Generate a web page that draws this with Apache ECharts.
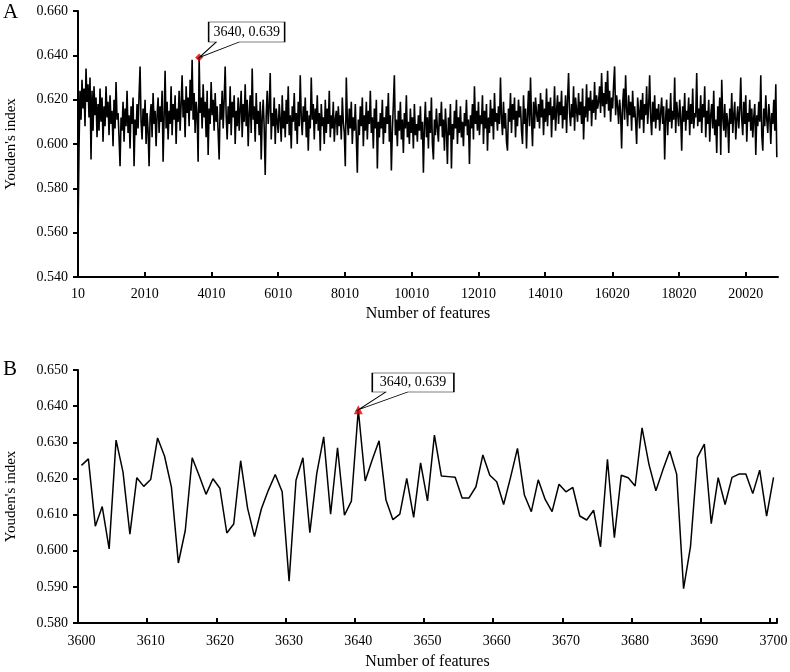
<!DOCTYPE html>
<html><head><meta charset="utf-8">
<script src="https://cdn.jsdelivr.net/npm/echarts@6/dist/echarts.min.js"></script>
<style>html,body{margin:0;padding:0;background:#fff}#c{width:790px;height:672px}</style>
</head><body><div id="c"></div>
<script>
// ---------- Panel A: Youden's index vs number of features ----------
const firstFeatureA = 10;
const featureStepA = 30;
const youdenA = [
0.559,0.598,0.624,0.611,0.629,0.616,0.625,0.608,0.634,0.619,0.627,0.612,0.630,0.593,0.624,0.606,0.626,0.613,0.621,0.603,
0.618,0.606,0.625,0.610,0.621,0.601,0.617,0.608,0.626,0.612,0.619,0.604,0.622,0.609,0.615,0.599,0.620,0.607,0.628,0.611,
0.614,0.603,0.590,0.612,0.606,0.619,0.601,0.616,0.608,0.624,0.605,0.613,0.598,0.617,0.609,0.621,0.590,0.611,0.604,0.618,
0.607,0.622,0.635,0.610,0.602,0.616,0.608,0.620,0.600,0.614,0.606,0.590,0.612,0.618,0.603,0.623,0.609,0.615,0.599,0.613,
0.621,0.605,0.617,0.610,0.624,0.592,0.612,0.633,0.607,0.619,0.602,0.615,0.609,0.626,0.604,0.618,0.611,0.622,0.600,0.616,
0.610,0.624,0.606,0.618,0.631,0.612,0.620,0.603,0.626,0.614,0.621,0.608,0.629,0.615,0.638,0.611,0.623,0.605,0.619,0.613,
0.592,0.639,0.614,0.621,0.607,0.627,0.612,0.619,0.603,0.624,0.595,0.616,0.609,0.628,0.613,0.620,0.606,0.623,0.610,0.617,
0.605,0.593,0.618,0.611,0.624,0.607,0.620,0.635,0.613,0.602,0.617,0.609,0.626,0.604,0.619,0.612,0.622,0.600,0.615,0.608,
0.621,0.606,0.616,0.624,0.603,0.618,0.610,0.627,0.608,0.620,0.599,0.614,0.622,0.605,0.634,0.611,0.617,0.601,0.623,0.609,
0.615,0.604,0.619,0.593,0.612,0.620,0.607,0.586,0.613,0.624,0.609,0.617,0.632,0.602,0.614,0.608,0.621,0.600,0.616,0.610,
0.605,0.618,0.611,0.601,0.622,0.607,0.615,0.603,0.620,0.609,0.626,0.604,0.613,0.598,0.617,0.610,0.623,0.606,0.614,0.600,
0.619,0.608,0.631,0.612,0.604,0.617,0.610,0.621,0.603,0.615,0.597,0.613,0.607,0.630,0.611,0.618,0.602,0.616,0.609,0.622,
0.606,0.614,0.597,0.618,0.608,0.612,0.600,0.620,0.605,0.616,0.609,0.624,0.603,0.613,0.607,0.619,0.601,0.611,0.615,0.604,
0.617,0.608,0.613,0.602,0.621,0.610,0.605,0.590,0.630,0.611,0.604,0.616,0.607,0.619,0.600,0.612,0.606,0.618,0.603,0.587,
0.611,0.604,0.617,0.608,0.621,0.599,0.613,0.606,0.619,0.602,0.615,0.609,0.624,0.605,0.612,0.598,0.616,0.607,0.620,0.589,
0.610,0.603,0.614,0.607,0.620,0.600,0.612,0.605,0.617,0.609,0.623,0.601,0.613,0.588,0.606,0.618,0.631,0.604,0.611,0.599,
0.615,0.606,0.619,0.602,0.611,0.596,0.614,0.607,0.622,0.603,0.610,0.600,0.616,0.605,0.612,0.598,0.618,0.604,0.609,0.601,
0.613,0.606,0.617,0.602,0.610,0.587,0.608,0.619,0.603,0.612,0.598,0.615,0.605,0.621,0.600,0.593,0.611,0.604,0.616,0.607,
0.601,0.614,0.608,0.619,0.603,0.611,0.597,0.616,0.606,0.591,0.612,0.604,0.618,0.589,0.609,0.602,0.615,0.607,0.620,0.600,
0.612,0.605,0.617,0.603,0.610,0.599,0.614,0.608,0.620,0.604,0.611,0.591,0.613,0.607,0.618,0.602,0.626,0.609,0.615,0.606,
0.619,0.604,0.613,0.609,0.622,0.600,0.615,0.607,0.618,0.597,0.612,0.605,0.620,0.608,0.616,0.602,0.623,0.610,0.614,0.606,
0.617,0.609,0.630,0.612,0.604,0.619,0.607,0.614,0.601,0.597,0.616,0.610,0.623,0.605,0.618,0.611,0.621,0.603,0.615,0.608,
0.620,0.612,0.617,0.606,0.600,0.622,0.609,0.616,0.598,0.613,0.624,0.608,0.630,0.611,0.599,0.619,0.607,0.621,0.614,0.610,
0.618,0.607,0.623,0.612,0.620,0.604,0.616,0.610,0.625,0.608,0.619,0.613,0.621,0.603,0.617,0.611,0.626,0.606,0.615,0.622,
0.609,0.619,0.613,0.624,0.607,0.617,0.611,0.622,0.605,0.620,0.632,0.614,0.608,0.618,0.612,0.626,0.606,0.621,0.615,0.610,
0.623,0.613,0.619,0.609,0.625,0.602,0.617,0.612,0.627,0.610,0.621,0.615,0.624,0.608,0.620,0.614,0.628,0.611,0.622,0.616,
0.619,0.626,0.614,0.632,0.617,0.623,0.612,0.628,0.618,0.633,0.615,0.624,0.610,0.621,0.616,0.627,0.635,0.613,0.622,0.617,
0.609,0.620,0.614,0.598,0.618,0.625,0.611,0.631,0.616,0.608,0.622,0.613,0.619,0.606,0.624,0.612,0.617,0.610,0.600,0.621,
0.615,0.607,0.620,0.611,0.623,0.605,0.618,0.613,0.626,0.609,0.617,0.631,0.612,0.604,0.619,0.610,0.622,0.607,0.616,0.611,
0.618,0.606,0.614,0.621,0.609,0.617,0.593,0.612,0.620,0.604,0.616,0.610,0.623,0.607,0.615,0.611,0.630,0.605,0.619,0.613,
0.608,0.620,0.612,0.597,0.617,0.610,0.623,0.606,0.615,0.611,0.621,0.604,0.618,0.609,0.625,0.607,0.614,0.612,0.632,0.608,
0.616,0.610,0.622,0.605,0.618,0.612,0.626,0.603,0.615,0.609,0.620,0.601,0.613,0.618,0.607,0.624,0.604,0.611,0.596,0.617,
0.608,0.621,0.595,0.629,0.612,0.606,0.618,0.603,0.614,0.610,0.596,0.616,0.609,0.623,0.605,0.613,0.619,0.602,0.611,0.617,
0.607,0.615,0.630,0.611,0.604,0.619,0.609,0.622,0.601,0.614,0.610,0.620,0.606,0.616,0.603,0.612,0.618,0.595,0.613,0.608,
0.619,0.610,0.631,0.604,0.597,0.616,0.608,0.622,0.611,0.605,0.618,0.612,0.600,0.614,0.609,0.620,0.606,0.627,0.594
];
const xTicksA = [10, 2010, 4010, 6010, 8010, 10010, 12010, 14010, 16020, 18020, 20020];
const xMaxA = 20986;
const yMinA = 0.54, yMaxA = 0.66, yStepA = 0.02;

// ---------- Panel B: zoom on 3600-3700 features ----------
const featuresB = [3600,3601,3602,3603,3604,3605,3606,3607,3608,3609,3610,3611,3612,3613,3614,3615,3616,3617,3618,3619,
3620,3621,3622,3623,3624,3625,3626,3627,3628,3629,3630,3631,3632,3633,3634,3635,3636,3637,3638,3639,
3640,3641,3642,3643,3644,3645,3646,3647,3648,3649,3650,3651,3652,3653,3654,3655,3656,3657,3658,3659,
3660,3661,3662,3663,3664,3665,3666,3667,3668,3669,3670,3671,3672,3673,3674,3675,3676,3677,3678,3679,
3680,3681,3682,3683,3684,3685,3686,3687,3688,3689,3690,3691,3692,3693,3694,3695,3696,3697,3698,3699,3700];
const youdenB = [
0.6236,0.6254,0.6068,0.6122,0.6005,0.6306,0.6218,0.6046,0.6202,0.6178,
0.6197,0.6312,0.6262,0.6176,0.5966,0.6056,0.6257,0.6208,0.6156,0.6199,
0.6173,0.6049,0.6074,0.6249,0.6118,0.6039,0.6116,0.6167,0.6211,0.6163,
0.5916,0.6195,0.6257,0.6050,0.6214,0.6315,0.6101,0.6285,0.6098,0.6137,
0.6390,0.6193,0.6251,0.6304,0.6140,0.6086,0.6101,0.6200,0.6092,0.6243,
0.6138,0.6320,0.6207,0.6205,0.6203,0.6146,0.6146,0.6177,0.6265,0.6209,
0.6191,0.6128,0.6203,0.6283,0.6154,0.6108,0.6196,0.6142,0.6108,0.6184,
0.6163,0.6175,0.6096,0.6085,0.6112,0.6011,0.6253,0.6036,0.6209,0.6202,
0.6179,0.6340,0.6239,0.6166,0.6223,0.6276,0.6212,0.5895,0.6011,0.6258,
0.6295,0.6075,0.6202,0.6128,0.6203,0.6212,0.6212,0.6158,0.6223,0.6096,
0.6203];
const xLabelEveryB = 10;
const yMinB = 0.58, yMaxB = 0.65, yStepB = 0.01;

const xTitle = 'Number of features';
const yTitle = "Youden's index";

// ---------- build ----------
const FONT = "'Liberation Serif','Times New Roman',serif";
const featuresA = youdenA.map((_, i) => firstFeatureA + i * featureStepA);
const peakIndex = ys => ys.reduce((k, v, i) => (v > ys[k] ? i : k), 0);
const pA = peakIndex(youdenA), pB = peakIndex(youdenB);

// callout geometry relative to the tip (styling only)
function callout(b) {
  const W = b.r, H = -b.t, yb = H + b.b;
  return {
    symbol: `path://M${b.l} 0L${b.r} 0L${b.r} ${yb}L${b.w2} ${yb}L0 ${H}L${b.w1} ${yb}L${b.l} ${yb}Z`,
    symbolSize: [W, H],
    symbolOffset: [W / 2, -H / 2],
    labelOffset: [(b.l + b.r) / 2 - W / 2, (b.t + b.b) / 2 + H / 2]
  };
}
const cA = callout({l: 9.5, r: 85.5, t: -35.5, b: -15.5, w1: 17, w2: 40});
const cB = callout({l: 14, r: 95.6, t: -36.7, b: -17.7, w1: 27.3, w2: 49.3});

function markFor(c, coord, text) {
  return {
    symbol: c.symbol, symbolSize: c.symbolSize, symbolOffset: c.symbolOffset, silent: true,
    itemStyle: {color: '#fff', borderColor: '#000', borderWidth: 1},
    label: {show: true, position: 'inside', offset: c.labelOffset, formatter: text,
            color: '#000', fontSize: 14, fontFamily: FONT},
    data: [{coord: coord}]
  };
}

const axisLine = {show: true, lineStyle: {color: '#000', width: 2}};
const txt = {color: '#000', fontFamily: FONT, fontSize: 14};
const nameStyle = {color: '#000', fontFamily: FONT, fontSize: 16};

const chart = echarts.init(document.getElementById('c'), null, {renderer: 'canvas'});
chart.setOption({
  animation: false,
  backgroundColor: '#fff',
  title: [
    {text: 'A', left: 3, top: 2, padding: 0, textStyle: {fontFamily: FONT, fontSize: 21, fontWeight: 'normal', color: '#000'}},
    {text: 'B', left: 3, top: 359, padding: 0, textStyle: {fontFamily: FONT, fontSize: 21, fontWeight: 'normal', color: '#000'}}
  ],
  grid: [
    {left: 78, right: 12, top: 11, height: 266, outerBoundsMode: 'none', containLabel: false},
    {left: 78, right: 13, top: 370, height: 253, outerBoundsMode: 'none', containLabel: false}
  ],
  xAxis: [
    {gridIndex: 0, type: 'value', min: firstFeatureA, max: xMaxA,
     axisLine: axisLine,
     axisTick: {show: true, inside: true, length: 5, customValues: xTicksA, lineStyle: {color: '#000', width: 2}},
     axisLabel: Object.assign({customValues: xTicksA, margin: 10, formatter: v => String(v)}, txt),
     splitLine: {show: false},
     name: xTitle, nameLocation: 'middle', nameGap: 29, nameTextStyle: nameStyle},
    {gridIndex: 1, type: 'category', data: featuresB.map(String), boundaryGap: true,
     axisLine: axisLine,
     axisTick: {show: true, inside: true, length: 5, interval: xLabelEveryB - 1, lineStyle: {color: '#000', width: 2}},
     axisLabel: Object.assign({interval: xLabelEveryB - 1, margin: 11}, txt),
     splitLine: {show: false},
     name: xTitle, nameLocation: 'middle', nameGap: 31, nameTextStyle: nameStyle}
  ],
  yAxis: [
    {gridIndex: 0, type: 'value', min: yMinA, max: yMaxA, interval: yStepA,
     axisLine: axisLine,
     axisTick: {show: true, inside: false, length: 5, lineStyle: {color: '#000', width: 2}},
     axisLabel: Object.assign({margin: 10, formatter: v => v.toFixed(3)}, txt),
     splitLine: {show: false},
     name: yTitle, nameLocation: 'middle', nameGap: 59, nameTextStyle: Object.assign({}, nameStyle, {fontSize: 15})},
    {gridIndex: 1, type: 'value', min: yMinB, max: yMaxB, interval: yStepB,
     axisLine: axisLine,
     axisTick: {show: true, inside: false, length: 5, lineStyle: {color: '#000', width: 2}},
     axisLabel: Object.assign({margin: 10, formatter: v => v.toFixed(3)}, txt),
     splitLine: {show: false},
     name: yTitle, nameLocation: 'middle', nameGap: 59, nameTextStyle: Object.assign({}, nameStyle, {fontSize: 15})}
  ],
  series: [
    {type: 'line', xAxisIndex: 0, yAxisIndex: 0, showSymbol: false, silent: true,
     data: featuresA.map((f, i) => [f, youdenA[i]]),
     lineStyle: {color: '#000', width: 1.6}, z: 2,
     markPoint: markFor(cA, [featuresA[pA], youdenA[pA]], `${featuresA[pA]}, ${youdenA[pA].toFixed(3)}`)},
    {type: 'scatter', xAxisIndex: 0, yAxisIndex: 0, silent: true, z: 4,
     symbol: 'diamond', symbolSize: 8, itemStyle: {color: '#e00000'},
     data: [[featuresA[pA], youdenA[pA]]]},
    {type: 'line', xAxisIndex: 1, yAxisIndex: 1, showSymbol: false, silent: true,
     data: youdenB, lineStyle: {color: '#000', width: 1.5}, z: 2,
     markPoint: markFor(cB, [pB, youdenB[pB]], `${featuresB[pB]}, ${youdenB[pB].toFixed(3)}`)},
    {type: 'scatter', xAxisIndex: 1, yAxisIndex: 1, silent: true, z: 4,
     symbol: 'triangle', symbolSize: 9, itemStyle: {color: '#e00000'},
     data: [[pB, youdenB[pB]]]}
  ]
});
</script></body></html>
